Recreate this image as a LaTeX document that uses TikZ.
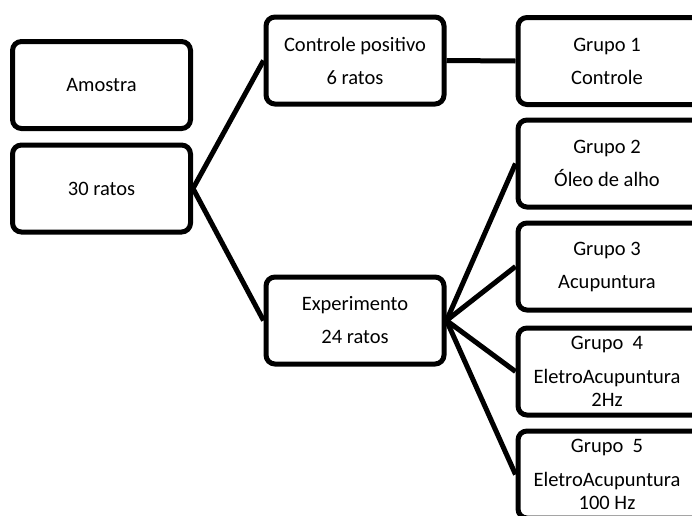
\documentclass[tikz,border=0pt]{standalone}
\usepackage{fontspec}
\setmainfont{Carlito}
\begin{document}
\begin{tikzpicture}[x=1pt,y=-1pt,
  box/.style={draw=black,line width=5pt,rounded corners=9pt,fill=white,
    minimum width=178pt,minimum height=87pt,inner sep=0pt,align=center,
    font=\fontsize{20.5}{23}\selectfont},
  gbox/.style={box,minimum width=200pt},
  txt/.style={align=center,inner sep=0pt,font=\fontsize{20.5}{23}\selectfont},
  link/.style={line width=5pt,draw=black}]
\useasboundingbox (0,0) rectangle (692,515);
\clip (0,0) rectangle (692,515);
\node[box] (amostra) at (101.5,85) {Amostra};
\node[box] (ratos) at (101.5,188.5) {30 ratos};
\node[box] (ctrl) at (355,60.5) {Controle positivo\\[10pt]6 ratos};
\node[box] (exp) at (355,320.5) {Experimento\\[10pt]24 ratos};
\node[gbox] (g1) at (618,61) {};
\node[gbox] (g2) at (618,163.5) {};
\node[gbox] (g3) at (618,266.5) {};
\node[gbox] (g4) at (618,371.5) {};
\node[gbox] (g5) at (618,474.5) {};
\node[txt] (t1) at (607,61) {Grupo 1\\[10pt]Controle};
\node[txt] (t2) at (607,163.5) {Grupo 2\\[10pt]Óleo de alho};
\node[txt] (t3) at (607,266.5) {Grupo 3\\[10pt]Acupuntura};
\node[txt] (t4) at (607,371.5) {Grupo\ \ 4\\[11pt]EletroAcupuntura\\2Hz};
\node[txt] (t5) at (607,474.5) {Grupo\ \ 5\\[11pt]EletroAcupuntura\\100 Hz};
\draw[link] (ratos.east) -- (ctrl.west);
\draw[link] (ratos.east) -- (exp.west);
\draw[link] (ctrl.east) -- (g1.west);
\draw[link] (exp.east) -- (g2.west);
\draw[link] (exp.east) -- (g3.west);
\draw[link] (exp.east) -- (g4.west);
\draw[link] (exp.east) -- (g5.west);
\end{tikzpicture}
\end{document}
